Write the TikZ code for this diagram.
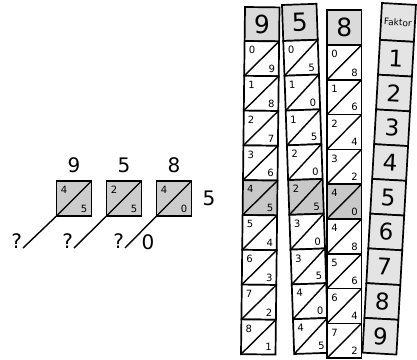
\documentclass[tikz,border=0pt]{standalone}
\usepackage{fontspec}
\setmainfont{DejaVu Sans}
\usepackage{tikz}
\usetikzlibrary{positioning}

\definecolor{headgray}{HTML}{DADADA}
\definecolor{rowgray}{HTML}{C8C8C8}
\definecolor{faktorgray}{HTML}{E4E4E4}
\definecolor{sqgray}{HTML}{CCCCCC}

\begin{document}
\begin{tikzpicture}[
  x=1pt, y=-1pt,
  every node/.style={inner sep=0pt, outer sep=0pt},
  rodline/.style={draw=black, line width=1.7pt},
  diagline/.style={line width=1.4pt},
  sqbox/.style={draw=black, line width=1.5pt, fill=sqgray, minimum size=35pt},
  smalldigit/.style={font=\fontsize{10}{10}\selectfont, transform shape},
  headdigit/.style={font=\fontsize{25}{25}\selectfont, transform shape},
  bigdigit/.style={font=\fontsize{20}{20}\selectfont},
]
  \useasboundingbox (0,0) rectangle (417,359);

  % left: one row worked out
  \node[sqbox] (sq1) at (74,198.5) {};
  \node[sqbox, right=15pt of sq1] (sq2) {};
  \node[sqbox, right=15pt of sq2] (sq3) {};
  \foreach \s/\t/\u/\d in {1/4/5/9, 2/2/5/5, 3/4/0/8} {
    \node[smalldigit] (t\s) at ([xshift=7.5pt,yshift=-9pt]sq\s.north west) {\t};
    \node[smalldigit] (u\s) at ([xshift=-7.5pt,yshift=7.5pt]sq\s.south east) {\u};
    \node[bigdigit, above=8pt of sq\s] (f\s) {\d};
    \draw[diagline] (sq\s.north east) -- (sq\s.south west);
  }
  \node[bigdigit, right=11pt of sq3] (mult) {5};

  \coordinate (e1) at (23,248);
  \coordinate (e2) at (74,248);
  \coordinate (e3) at (125,248);
  \foreach \s in {1,2,3} {
    \draw[diagline] (sq\s.south west) -- (e\s);
    \node[bigdigit, anchor=south east] (q\s) at ([xshift=-1pt]e\s) {?};
  }
  \node[bigdigit] (c3) at (148,242) {0};

  % the bones 9, 5, 8
  \foreach \d/\px/\py/\ang/\hh in {9/245/7/-0.66/34, 5/282/5/2.0/36, 8/327/10/0/35} {
    \begin{scope}[shift={(\px,\py)}, rotate=\ang]
      \filldraw[rodline, fill=headgray] (0,0) rectangle (34.5,\hh);
      \node[headdigit] (h\d) at (17.25,\hh/2) {\d};
      \foreach \k in {1,...,9} {
        \pgfmathtruncatemacro\pr{\d*\k}
        \pgfmathtruncatemacro\tn{\pr/10}
        \pgfmathtruncatemacro\un{mod(\pr,10)}
        \pgfmathsetmacro\cy{\hh+(\k-1)*34.8}
        \def\fc{white}
        \ifnum\k=5 \def\fc{rowgray}\fi
        \filldraw[rodline, fill=\fc] (0,\cy) rectangle (34.5,\cy+34.8);
        \draw[diagline] (0,\cy+34.8) -- (34.5,\cy);
        \node[smalldigit] (r\d-\k t) at (7.5,\cy+9) {\tn};
        \node[smalldigit] (r\d-\k u) at (27.5,\cy+27.5) {\un};
      }
    \end{scope}
  }

  % factor rod
  \begin{scope}[shift={(382,3)}, rotate=-3.2]
    \filldraw[rodline, fill=faktorgray] (0,0) rectangle (34,37);
    \node[font=\fontsize{9}{9}\selectfont, transform shape] (fk) at (17,18.5) {Faktor};
    \foreach \k in {1,...,9} {
      \pgfmathsetmacro\cy{37+(\k-1)*34.8}
      \filldraw[rodline, fill=faktorgray] (0,\cy) rectangle (34,\cy+34.8);
      \node[font=\fontsize{23}{23}\selectfont, transform shape] (fk\k) at (17,\cy+17.4) {\k};
    }
  \end{scope}
\end{tikzpicture}
\end{document}
